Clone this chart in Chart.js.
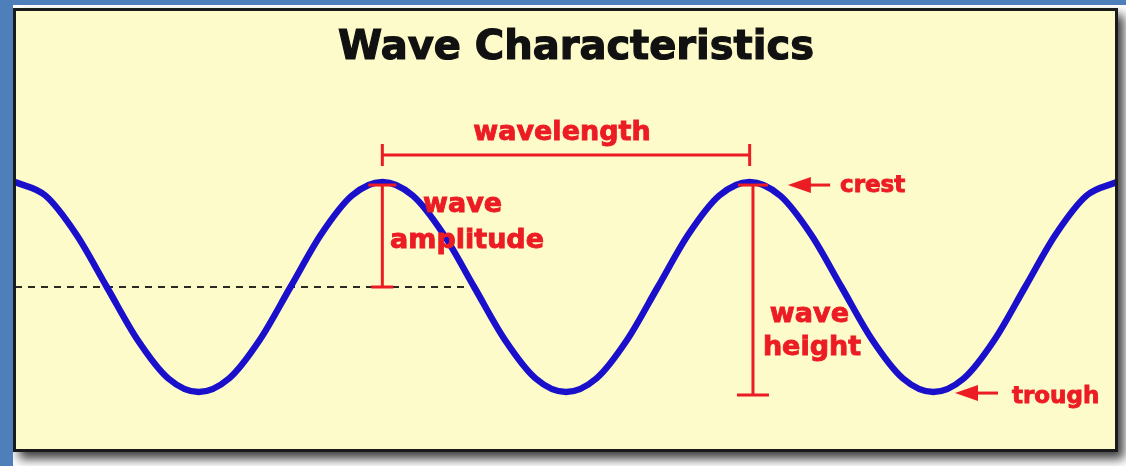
<!DOCTYPE html>
<html>
<head>
<meta charset="utf-8">
<title>Wave Characteristics</title>
<script src="https://cdn.jsdelivr.net/npm/chart.js@4.4.1/dist/chart.umd.min.js"></script>
<style>
  html, body { margin: 0; padding: 0; background: #ffffff; }
  #wrap { position: relative; width: 1126px; height: 466px; }
</style>
</head>
<body>
<div id="wrap"><canvas id="wave"></canvas></div>
<script>
// ---- data ----
// x in wavelengths (crest to crest), y in amplitudes (midline = 0)
const waveX = [0, 0.083, 0.167, 0.25, 0.333, 0.417, 0.5, 0.583, 0.667, 0.75, 0.833, 0.917,
               1, 1.083, 1.167, 1.25, 1.333, 1.417, 1.5, 1.583, 1.667, 1.75, 1.833, 1.917,
               2, 2.083, 2.167, 2.25, 2.333, 2.417, 2.5, 2.583, 2.667, 2.75, 2.833, 2.917, 3];
const waveY = [1, 0.87, 0.5, 0, -0.5, -0.87, -1, -0.87, -0.5, 0, 0.5, 0.87,
               1, 0.87, 0.5, 0, -0.5, -0.87, -1, -0.87, -0.5, 0, 0.5, 0.87,
               1, 0.87, 0.5, 0, -0.5, -0.87, -1, -0.87, -0.5, 0, 0.5, 0.87, 1];

const titleText = 'Wave Characteristics';
const wavelengthLabel = 'wavelength';
const amplitudeLabel = ['wave', 'amplitude'];
const heightLabel = ['wave', 'height'];
const crestLabel = 'crest';
const troughLabel = 'trough';

const RED = '#ec1c24';
const BLUE = '#1a10cc';
const PANEL = '#fdfbca';
const FRAME_BLUE = '#4e7fbb';

// fill + thin stroke, the original lettering is heavier than plain bold
function boldText(ctx, text, x, y) {
  ctx.fillText(text, x, y);
  ctx.strokeText(text, x, y);
}

// ---- panel, frame and shadow ----
const framePlugin = {
  id: 'frame',
  beforeDraw(chart) {
    const ctx = chart.ctx;
    const w = chart.width, h = chart.height;
    ctx.save();
    ctx.fillStyle = '#ffffff';
    ctx.fillRect(0, 0, w, h);
    // drop shadow under the panel
    ctx.shadowColor = 'rgba(0,0,0,0.75)';
    ctx.shadowBlur = 10;
    ctx.shadowOffsetX = 6;
    ctx.shadowOffsetY = 7;
    ctx.fillStyle = PANEL;
    ctx.fillRect(13, 8, 1105, 444);
    ctx.restore();
    ctx.save();
    ctx.fillStyle = FRAME_BLUE;
    ctx.fillRect(0, 0, w, 5);
    ctx.fillRect(0, 0, 13, h);
    // title
    ctx.fillStyle = '#111111';
    ctx.strokeStyle = '#111111';
    ctx.lineWidth = 1.2;
    ctx.font = 'bold 40px "DejaVu Sans"';
    ctx.textAlign = 'center';
    ctx.textBaseline = 'alphabetic';
    boldText(ctx, titleText, 576, 59);
    ctx.restore();
  },
  afterDraw(chart) {
    const ctx = chart.ctx;
    ctx.save();
    ctx.strokeStyle = '#1a1a1a';
    ctx.lineWidth = 3;
    ctx.strokeRect(14.5, 9.5, 1102, 441);
    ctx.restore();
  }
};

// ---- red measurement marks and labels ----
const marksPlugin = {
  id: 'marks',
  beforeDatasetsDraw(chart) {
    const ctx = chart.ctx;
    const xs = chart.scales.x, ys = chart.scales.y;
    // still-water line
    ctx.save();
    ctx.strokeStyle = '#2a2a22';
    ctx.lineWidth = 2;
    ctx.setLineDash([7, 6]);
    ctx.beginPath();
    ctx.moveTo(xs.getPixelForValue(0), ys.getPixelForValue(0));
    ctx.lineTo(xs.getPixelForValue(1.233), ys.getPixelForValue(0));
    ctx.stroke();
    ctx.restore();
  },
  afterDatasetsDraw(chart) {
    const ctx = chart.ctx;
    const xs = chart.scales.x, ys = chart.scales.y;
    const X = v => xs.getPixelForValue(v);
    const Y = v => ys.getPixelForValue(v);

    ctx.save();
    ctx.strokeStyle = RED;
    ctx.fillStyle = RED;
    ctx.lineWidth = 3;

    function line(x1, y1, x2, y2) {
      ctx.beginPath();
      ctx.moveTo(x1, y1);
      ctx.lineTo(x2, y2);
      ctx.stroke();
    }
    function arrow(tipX, tipY, endX) {
      ctx.beginPath();
      ctx.moveTo(tipX, tipY);
      ctx.lineTo(tipX + 23, tipY - 8);
      ctx.lineTo(tipX + 23, tipY + 8);
      ctx.closePath();
      ctx.fill();
      line(tipX + 20, tipY, endX, tipY);
    }

    // wavelength bracket
    const by = Y(1.257);
    line(X(1), by, X(2), by);
    line(X(1), by - 11, X(1), by + 11);
    line(X(2), by - 11, X(2), by + 11);

    // amplitude bar
    const ax = X(1);
    line(ax, Y(0.971), ax, Y(0));
    line(ax - 14, Y(0.971), ax + 14, Y(0.971));
    line(ax - 11, Y(0), ax + 11, Y(0));

    // wave height bar
    const hx = X(2.009);
    line(hx, Y(0.971), hx, Y(-1.029));
    line(hx - 15, Y(0.971), hx + 15, Y(0.971));
    line(hx - 16, Y(-1.029), hx + 16, Y(-1.029));

    // crest / trough arrows
    arrow(X(2.104), Y(0.971), X(2.219));
    arrow(X(2.559), Y(-1.01), X(2.676));

    // labels
    ctx.lineWidth = 0.9;
    ctx.textBaseline = 'alphabetic';
    ctx.font = 'bold 27px "DejaVu Sans"';
    ctx.textAlign = 'center';
    boldText(ctx, wavelengthLabel, X(1.489), Y(1.40));
    ctx.textAlign = 'left';
    boldText(ctx, amplitudeLabel[0], X(1.111), Y(0.714));
    boldText(ctx, amplitudeLabel[1], X(1.021), Y(0.371));
    boldText(ctx, heightLabel[0], X(2.055), Y(-0.333));
    boldText(ctx, heightLabel[1], X(2.036), Y(-0.648));
    ctx.font = 'bold 23px "DejaVu Sans"';
    boldText(ctx, crestLabel, X(2.246), Y(0.905));
    boldText(ctx, troughLabel, X(2.714), Y(-1.105));
    ctx.restore();
  }
};

const points = waveX.map((x, i) => ({ x: x, y: waveY[i] }));

new Chart(document.getElementById('wave'), {
  type: 'line',
  data: {
    datasets: [{
      data: points,
      borderColor: BLUE,
      borderWidth: 6.5,
      pointRadius: 0,
      fill: false,
      cubicInterpolationMode: 'monotone',
      clip: { left: 0, right: 0, top: 10, bottom: 10 }
    }]
  },
  options: {
    responsive: true,
    maintainAspectRatio: false,
    animation: false,
    devicePixelRatio: 1,
    layout: { padding: { left: 15, right: 9, top: 182, bottom: 74 } },
    plugins: {
      legend: { display: false },
      tooltip: { enabled: false },
      title: { display: false }
    },
    scales: {
      x: { type: 'linear', min: 0, max: 3, display: false },
      y: { type: 'linear', min: -1, max: 1, display: false }
    }
  },
  plugins: [framePlugin, marksPlugin]
});
</script>
</body>
</html>
